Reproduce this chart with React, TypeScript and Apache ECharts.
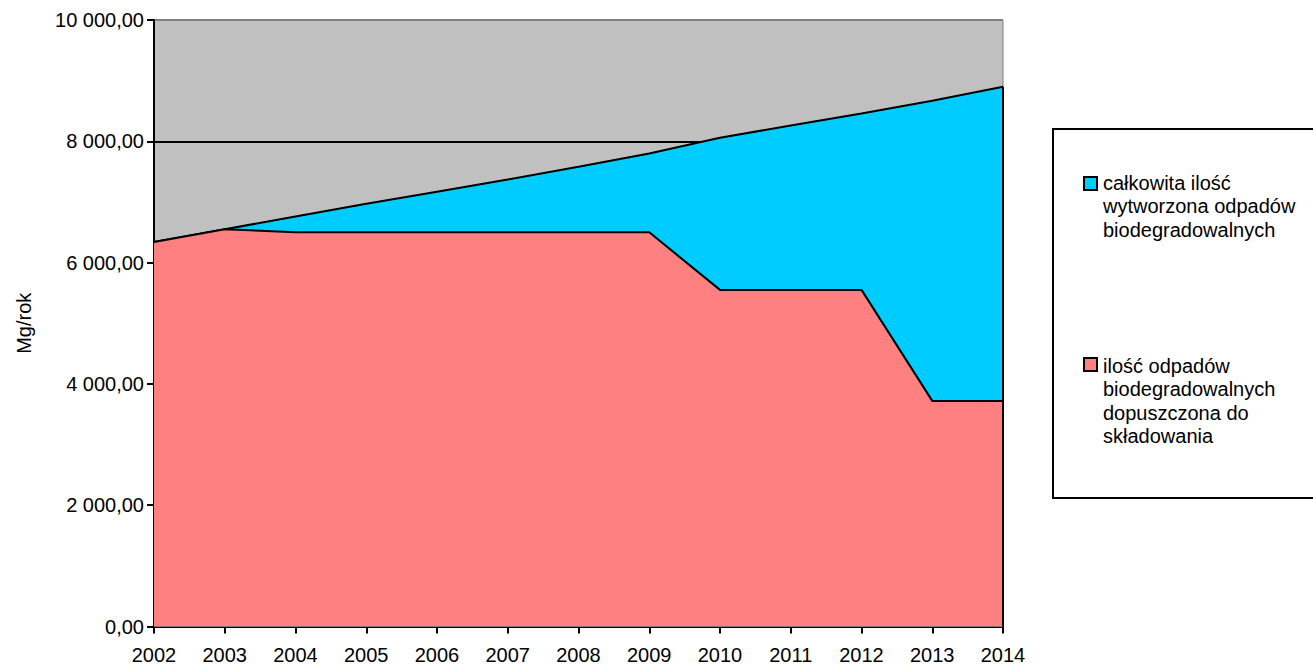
import React, { useEffect, useRef } from "react";
import * as echarts from "echarts";

const years = ["2002", "2003", "2004", "2005", "2006", "2007", "2008", "2009", "2010", "2011", "2012", "2013", "2014"];
const totalWaste = [6340, 6550, 6760, 6970, 7170, 7370, 7580, 7800, 8060, 8260, 8460, 8670, 8900];
const allowedLandfill = [6340, 6550, 6500, 6500, 6500, 6500, 6500, 6500, 5550, 5550, 5550, 3720, 3720];
const seriesNames = [
  "całkowita ilość\nwytworzona odpadów\nbiodegradowalnych",
  "ilość odpadów\nbiodegradowalnych\ndopuszczona do\nskładowania",
];
const yAxisName = "Mg/rok";

const FONT = '"Liberation Sans", Arial, sans-serif';

function fmt(v: number): string {
  const s = Math.round(v).toString().replace(/\B(?=(\d{3})+(?!\d))/g, " ");
  return s + ",00";
}

export default function App() {
  const ref = useRef<HTMLDivElement>(null);
  useEffect(() => {
    if (!ref.current) return;
    const chart = echarts.init(ref.current, undefined, { renderer: "svg" });
    const last = years.length - 1;
    chart.setOption({
      animation: false,
      backgroundColor: "#ffffff",
      textStyle: { fontFamily: FONT },
      grid: {
        left: 154,
        top: 20,
        right: 310,
        bottom: 38.5,
        show: true,
        backgroundColor: "#c0c0c0",
        borderColor: "#808080",
        borderWidth: 1,
      },
      xAxis: {
        type: "category",
        data: years,
        boundaryGap: false,
        axisLine: { show: true, lineStyle: { color: "#000", width: 2 } },
        axisTick: { show: true, alignWithLabel: true, length: 7, lineStyle: { color: "#000", width: 2 } },
        axisLabel: { color: "#000", fontSize: 20, fontFamily: FONT, margin: 18 },
        splitLine: { show: false },
      },
      yAxis: {
        type: "value",
        min: 0,
        max: 10000,
        interval: 2000,
        name: yAxisName,
        nameLocation: "middle",
        nameRotate: 90,
        nameGap: 120,
        nameTextStyle: { color: "#000", fontSize: 20, fontFamily: FONT },
        axisLine: { show: true, lineStyle: { color: "#000", width: 2 } },
        axisTick: { show: true, length: 7, lineStyle: { color: "#000", width: 2 } },
        axisLabel: { color: "#000", fontSize: 20, fontFamily: FONT, margin: 10, formatter: (v: number) => fmt(v) },
        splitLine: {
          show: true,
          lineStyle: { color: ["#000", "#000", "#000", "#000", "#000", "#808080"], width: 2 },
        },
      },
      series: [
        {
          name: seriesNames[0],
          type: "line",
          data: totalWaste,
          symbol: "none",
          lineStyle: { color: "#000", width: 2 },
          itemStyle: { color: "#00ccff" },
          areaStyle: { color: "#00ccff", opacity: 1 },
          z: 2,
        },
        {
          name: seriesNames[1],
          type: "line",
          data: allowedLandfill,
          symbol: "none",
          lineStyle: { color: "#000", width: 2 },
          itemStyle: { color: "#ff8080" },
          areaStyle: { color: "#ff8080", opacity: 1 },
          z: 3,
        },
        {
          name: "edge",
          type: "line",
          data: [
            [last, 0],
            [last, totalWaste[last]],
          ],
          symbol: "none",
          lineStyle: { color: "#000", width: 2 },
          silent: true,
          z: 4,
        },
      ],
      graphic: [
        {
          type: "rect",
          shape: { x: 1053, y: 129, width: 280, height: 369 },
          style: { fill: "#fff", stroke: "#000", lineWidth: 2 },
        },
        {
          type: "rect",
          shape: { x: 1084, y: 177, width: 13, height: 13 },
          style: { fill: "#00ccff", stroke: "#000", lineWidth: 2 },
        },
        {
          type: "text",
          x: 1103,
          y: 171,
          style: { text: seriesNames[0], font: `20px ${FONT}`, fill: "#000", lineHeight: 23.5, verticalAlign: "top" },
        },
        {
          type: "rect",
          shape: { x: 1084, y: 358, width: 13, height: 13 },
          style: { fill: "#ff8080", stroke: "#000", lineWidth: 2 },
        },
        {
          type: "text",
          x: 1103,
          y: 354,
          style: { text: seriesNames[1], font: `20px ${FONT}`, fill: "#000", lineHeight: 23.5, verticalAlign: "top" },
        },
      ],
    });
    return () => chart.dispose();
  }, []);
  return (
    <div
      ref={ref}
      style={{ position: "fixed", left: 0, top: 0, width: 1313, height: 665, background: "#fff" }}
    />
  );
}
